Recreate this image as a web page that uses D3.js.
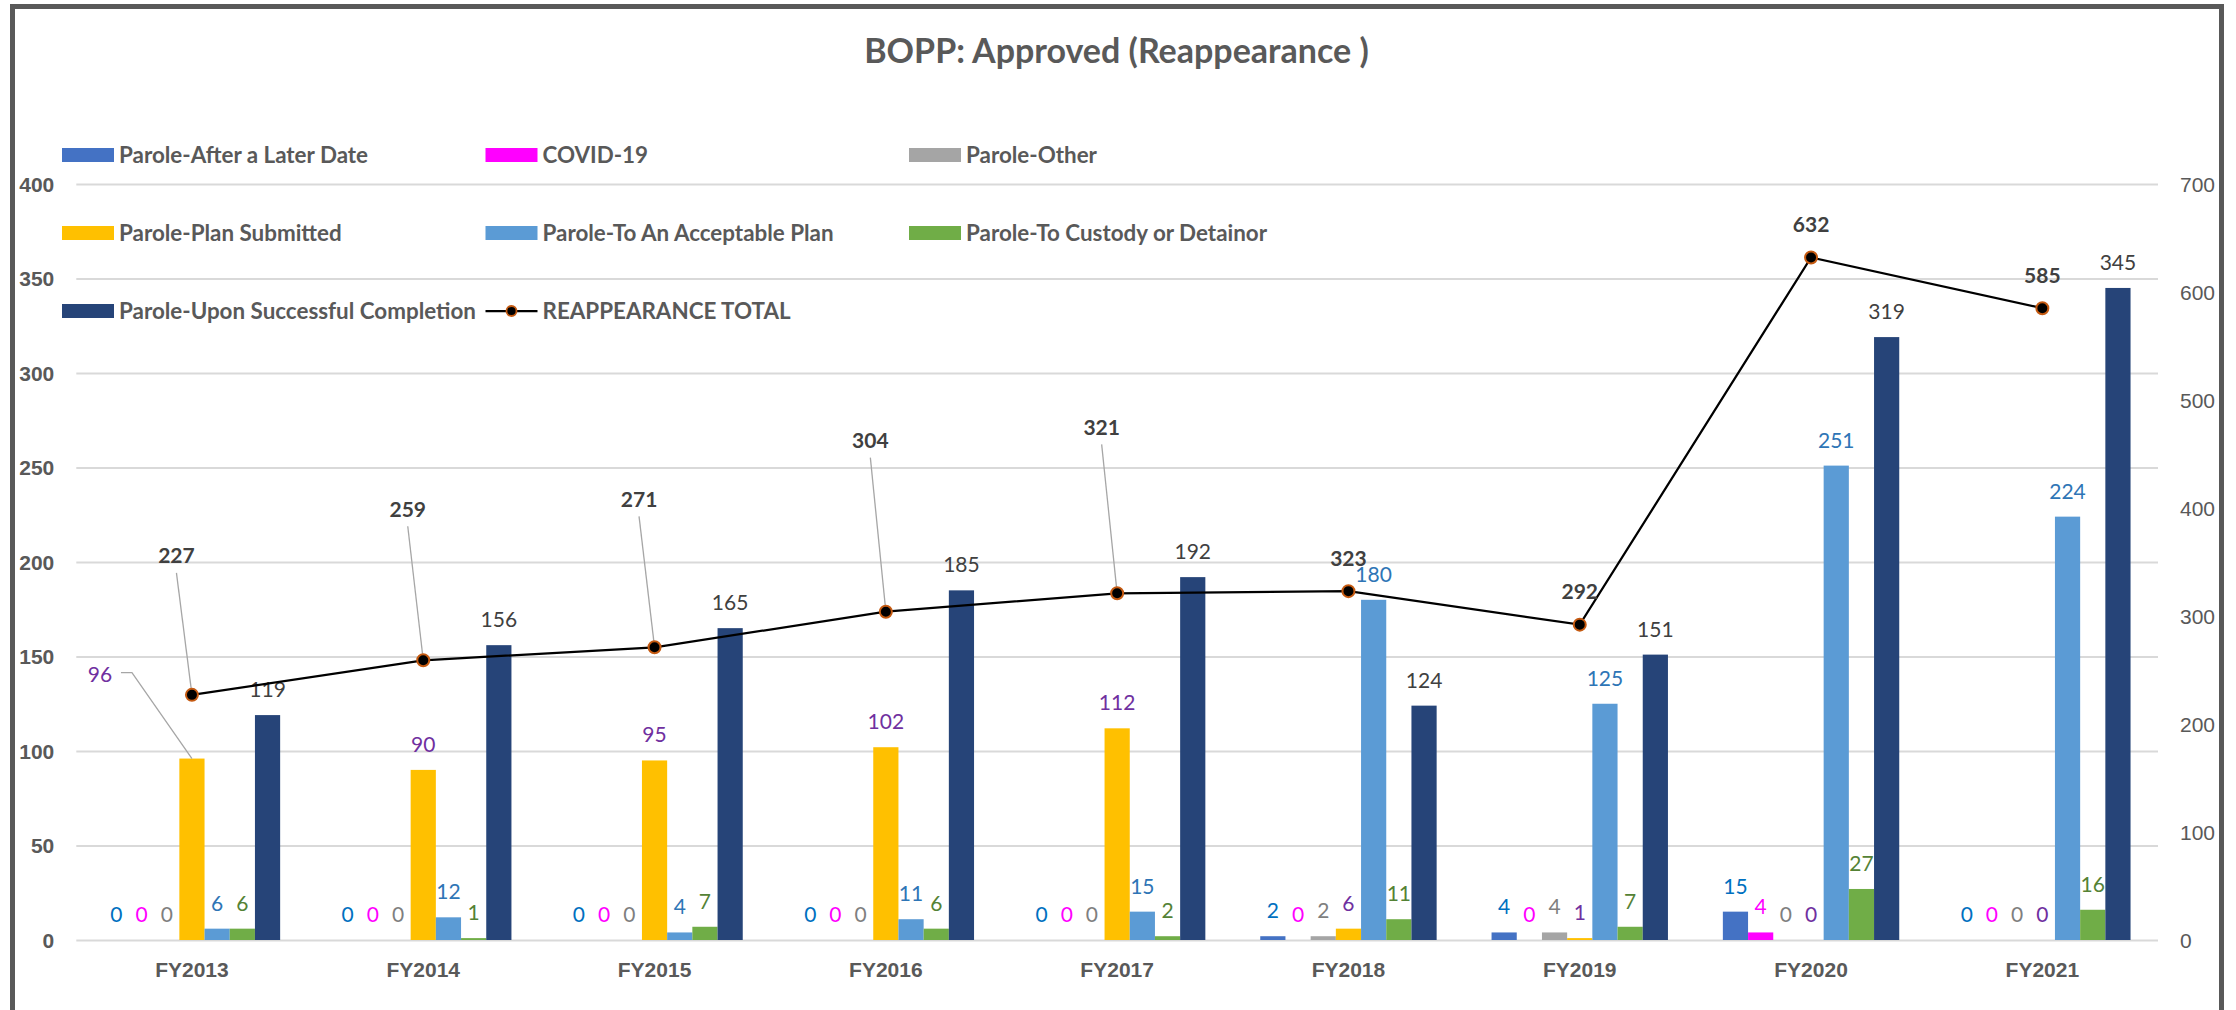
<!DOCTYPE html>
<html>
<head>
<meta charset="utf-8">
<script src="https://cdn.jsdelivr.net/npm/d3@7"></script>
<style>
  html, body { margin: 0; padding: 0; background: #fff; }
  svg { display: block; font-family: Lato, "Open Sans", sans-serif; }
</style>
</head>
<body>
<svg id="chart" width="2236" height="1010"></svg>
<script>
"use strict";

// ---- data ----
var categories = ["FY2013", "FY2014", "FY2015", "FY2016", "FY2017", "FY2018", "FY2019", "FY2020", "FY2021"];
var seriesNames = ["Parole-After a Later Date", "COVID-19", "Parole-Other", "Parole-Plan Submitted",
    "Parole-To An Acceptable Plan", "Parole-To Custody or Detainor", "Parole-Upon Successful Completion"];
var afterLaterDate = [0, 0, 0, 0, 0, 2, 4, 15, 0];
var covid19 = [0, 0, 0, 0, 0, 0, 0, 4, 0];
var paroleOther = [0, 0, 0, 0, 0, 2, 4, 0, 0];
var planSubmitted = [96, 90, 95, 102, 112, 6, 1, 0, 0];
var acceptablePlan = [6, 12, 4, 11, 15, 180, 125, 251, 224];
var custodyDetainor = [6, 1, 7, 6, 2, 11, 7, 27, 16];
var uponCompletion = [119, 156, 165, 185, 192, 124, 151, 319, 345];
var totalName = "REAPPEARANCE TOTAL";
var reappearanceTotal = [227, 259, 271, 304, 321, 323, 292, 632, 585];
var leftTicks = [0, 50, 100, 150, 200, 250, 300, 350, 400];
var rightTicks = [0, 100, 200, 300, 400, 500, 600, 700];

// ---- styling ----
var barColors = ["#4472C4", "#FF00FF", "#A5A5A5", "#FFC000", "#5B9BD5", "#70AD47", "#264478"];
var labelColors = ["#0070C0", "#FF00FF", "#7F7F7F", "#7030A0", "#2E75B6", "#548235", "#404040"];
var axisGrey = "#595959";

// hand-moved total labels (Excel leader lines), offset of label centre from marker
var totalLabelShift = [[-15.5, -139], [-15.5, -151], [-15.5, -148], [-15.5, -171], [-15.5, -166], null, null, null, null];

var seriesValues = [afterLaterDate, covid19, paroleOther, planSubmitted, acceptablePlan, custodyDetainor, uponCompletion];

var svg = d3.select("#chart");

var plot = {left: 76.3, right: 2158, top: 184, bottom: 940};

var x0 = d3.scaleBand()
    .domain(categories)
    .range([plot.left, plot.right])
    .paddingInner(0.2374)
    .paddingOuter(0.1187);

var x1 = d3.scaleBand()
    .domain(d3.range(seriesNames.length))
    .range([0, x0.bandwidth()]);

var yLeft = d3.scaleLinear().domain([0, 400]).range([plot.bottom, plot.top]);
var yRight = d3.scaleLinear().domain([0, 700]).range([plot.bottom, plot.top]);

// frame
svg.append("rect")
    .attr("x", 12.5).attr("y", 6.5)
    .attr("width", 2209).attr("height", 1100)
    .attr("fill", "none")
    .attr("stroke", axisGrey)
    .attr("stroke-width", 5);

// title
svg.append("text")
    .attr("x", 1116.5).attr("y", 63)
    .attr("text-anchor", "middle")
    .attr("font-size", 34).attr("font-weight", "bold")
    .attr("fill", axisGrey)
    .text("BOPP: Approved (Reappearance )");

// gridlines
var grid = svg.append("g")
    .attr("transform", "translate(" + plot.left + ",0)")
    .call(d3.axisLeft(yLeft).tickValues(leftTicks).tickSize(-(plot.right - plot.left)).tickFormat(""));
grid.select(".domain").remove();
grid.selectAll("line").attr("stroke", "#D9D9D9").attr("stroke-width", 2);

// left axis labels
var leftAxis = svg.append("g")
    .attr("transform", "translate(" + (plot.left - 22) + ",0)")
    .call(d3.axisLeft(yLeft).tickValues(leftTicks).tickSize(0).tickPadding(0));
leftAxis.select(".domain").remove();
leftAxis.selectAll("text")
    .attr("font-family", null)
    .attr("font-size", 21).attr("font-weight", "bold")
    .attr("fill", axisGrey)
    .attr("dy", "0.35em");

// right axis labels
var rightAxis = svg.append("g")
    .attr("transform", "translate(" + (plot.right + 22) + ",0)")
    .call(d3.axisRight(yRight).tickValues(rightTicks).tickSize(0).tickPadding(0));
rightAxis.select(".domain").remove();
rightAxis.selectAll("text")
    .attr("font-family", null)
    .attr("font-size", 21)
    .attr("fill", axisGrey)
    .attr("dy", "0.35em");

// category labels
var catAxis = svg.append("g")
    .attr("transform", "translate(0," + plot.bottom + ")")
    .call(d3.axisBottom(x0).tickSize(0).tickPadding(0));
catAxis.select(".domain").remove();
catAxis.selectAll("text")
    .attr("font-family", null)
    .attr("font-size", 21).attr("font-weight", "bold")
    .attr("fill", axisGrey)
    .attr("dy", null)
    .attr("y", 37);

// bars
var groups = svg.append("g").selectAll("g")
    .data(categories)
    .enter().append("g")
    .attr("transform", function (d) { return "translate(" + x0(d) + ",0)"; });

groups.selectAll("rect")
    .data(function (d, i) {
        return seriesValues.map(function (vals, s) { return {s: s, v: vals[i]}; });
    })
    .enter().append("rect")
    .attr("x", function (d) { return x1(d.s); })
    .attr("width", x1.bandwidth())
    .attr("y", function (d) { return yLeft(d.v); })
    .attr("height", function (d) { return plot.bottom - yLeft(d.v); })
    .attr("fill", function (d) { return barColors[d.s]; });

// bar labels
groups.selectAll("text.val")
    .data(function (d, i) {
        return seriesValues.map(function (vals, s) { return {s: s, v: vals[i], cat: i}; });
    })
    .enter().append("text")
    .attr("class", "val")
    .attr("text-anchor", "middle")
    .attr("font-size", 21)
    .attr("fill", function (d) { return labelColors[d.s]; })
    .attr("x", function (d) {
        var cx = x1(d.s) + x1.bandwidth() / 2;
        return (d.cat === 0 && d.s === 3) ? cx - 92 : cx;
    })
    .attr("y", function (d) {
        var top = yLeft(d.v);
        return (d.cat === 0 && d.s === 3) ? top - 84 + 7.5 : top - 18;
    })
    .text(function (d) { return d.v; });

// leader for the moved "96" label
(function () {
    var cx = x0(categories[0]) + x1(3) + x1.bandwidth() / 2,
        top = yLeft(planSubmitted[0]);
    svg.append("path")
        .attr("d", d3.line()([[cx - 71, top - 86], [cx - 60, top - 86], [cx, top]]))
        .attr("fill", "none")
        .attr("stroke", "#A6A6A6")
        .attr("stroke-width", 1.3);
}());

// total line
var cxOf = function (i) { return x0(categories[i]) + x0.bandwidth() / 2; };

// leader lines first so markers sit on top
reappearanceTotal.forEach(function (v, i) {
    var sh = totalLabelShift[i];
    if (!sh) { return; }
    svg.append("line")
        .attr("x1", cxOf(i) + sh[0]).attr("y1", yRight(v) + sh[1] + 17)
        .attr("x2", cxOf(i)).attr("y2", yRight(v))
        .attr("stroke", "#A6A6A6")
        .attr("stroke-width", 1.3);
});

svg.append("path")
    .datum(reappearanceTotal)
    .attr("d", d3.line()
        .x(function (d, i) { return cxOf(i); })
        .y(function (d) { return yRight(d); }))
    .attr("fill", "none")
    .attr("stroke", "#000")
    .attr("stroke-width", 2.25);

svg.append("g").selectAll("circle")
    .data(reappearanceTotal)
    .enter().append("circle")
    .attr("cx", function (d, i) { return cxOf(i); })
    .attr("cy", function (d) { return yRight(d); })
    .attr("r", 6)
    .attr("fill", "#000")
    .attr("stroke", "#C55A11")
    .attr("stroke-width", 2);

svg.append("g").selectAll("text")
    .data(reappearanceTotal)
    .enter().append("text")
    .attr("text-anchor", "middle")
    .attr("font-size", 21).attr("font-weight", "bold")
    .attr("fill", "#404040")
    .attr("x", function (d, i) {
        var sh = totalLabelShift[i];
        return cxOf(i) + (sh ? sh[0] : 0);
    })
    .attr("y", function (d, i) {
        var sh = totalLabelShift[i];
        return yRight(d) + (sh ? sh[1] : -33) + 7.5;
    })
    .text(function (d) { return d; });

// legend, 3 columns
var legendItems = seriesNames.map(function (n, s) { return {name: n, s: s}; })
    .concat([{name: totalName, s: -1}]);

var legend = svg.append("g").selectAll("g")
    .data(legendItems)
    .enter().append("g")
    .attr("transform", function (d, i) {
        return "translate(" + (62 + (i % 3) * 423.5) + "," + (155 + Math.floor(i / 3) * 78) + ")";
    });

legend.each(function (d) {
    var g = d3.select(this);
    if (d.s >= 0) {
        g.append("rect")
            .attr("x", 0).attr("y", -7)
            .attr("width", 52).attr("height", 14)
            .attr("fill", barColors[d.s]);
    } else {
        g.append("line")
            .attr("x1", 0).attr("x2", 52)
            .attr("stroke", "#000").attr("stroke-width", 2.25);
        g.append("circle")
            .attr("cx", 26).attr("r", 5)
            .attr("fill", "#000")
            .attr("stroke", "#C55A11").attr("stroke-width", 1.8);
    }
    g.append("text")
        .attr("x", 57).attr("y", 8)
        .attr("font-size", 22.4).attr("font-weight", "bold")
        .attr("fill", axisGrey)
        .text(d.name);
});
</script>
</body>
</html>
